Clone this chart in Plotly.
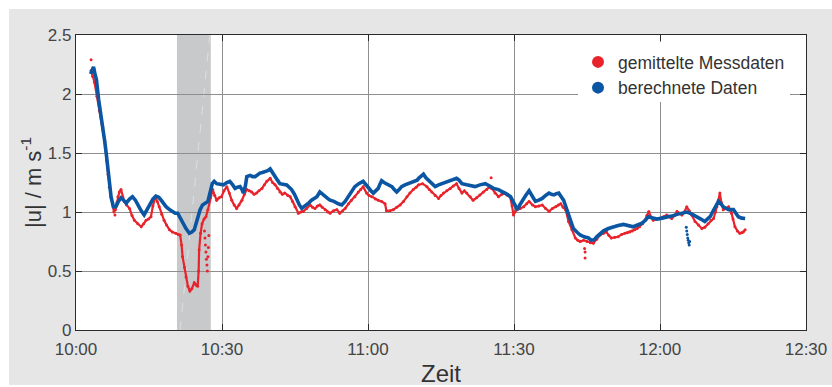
import pandas as pd
import plotly.graph_objects as go

# --- data: minutes after 10:00 and flow speed |u| in m/s ---
calc_min = [3.0, 3.3, 3.6, 3.9, 4.2, 4.66, 5.1, 5.5, 5.9, 6.2, 6.55, 6.85, 7.2, 7.67, 8.2, 8.7, 9.25, 9.8,
            10.3, 11.0, 11.6, 12.2, 12.7, 13.4, 14.0, 14.6, 15.1, 15.8, 16.4, 17.0, 17.5, 18.0, 18.5, 19.2,
            19.9, 20.4, 20.9, 21.4, 21.9, 22.6, 23.3, 23.8, 24.3, 24.6, 25.0, 25.5, 26.0, 26.6, 27.1, 27.4,
            27.7, 28.0, 28.4, 28.9, 29.6, 30.3, 31.0, 31.6, 32.2, 32.7, 33.2, 33.7, 34.1, 34.4, 34.8, 35.1,
            35.8, 36.3, 36.8, 37.3, 37.8, 38.3, 38.8, 39.4, 39.9, 40.4, 40.9, 41.4, 41.9, 42.6, 43.3, 43.8,
            44.3, 44.9, 45.4, 45.9, 46.4, 46.9, 47.4, 47.9, 48.4, 49.0, 49.5, 50.1, 50.6, 51.2, 51.7, 52.2,
            53.0, 53.9, 54.6, 55.3, 56.0, 56.6, 57.3, 58.1, 59.0, 59.5, 60.1, 60.6, 61.1, 61.6, 62.1, 62.5,
            62.8, 63.3, 63.8, 64.4, 64.9, 65.4, 65.9, 66.4, 66.9, 67.6, 68.3, 69.0, 69.7, 70.1, 70.4, 70.9,
            71.4, 71.9, 72.4, 73.1, 73.8, 74.5, 75.2, 75.8, 76.5, 77.3, 78.2, 78.7, 79.3, 80.3, 81.2, 82.0,
            83.0, 84.1, 85.0, 85.8, 86.8, 87.9, 88.6, 89.3, 90.0, 90.7, 91.2, 91.7, 92.4, 93.1, 93.6, 94.0,
            94.4, 95.1, 95.8, 96.5, 97.2, 97.7, 98.2, 98.7, 99.2, 99.7, 100.2, 100.7, 101.2, 101.7, 102.2,
            102.9, 103.6, 104.4, 105.3, 105.9, 106.5, 107.0, 107.7, 108.4, 109.4, 110.4, 111.4, 112.5, 113.5,
            114.5, 115.4, 116.3, 117.0, 117.6, 118.5, 119.4, 120.4, 121.4, 122.4, 123.5, 124.5, 125.5, 126.2,
            127.2, 127.5, 128.4, 129.2, 129.8, 130.3, 130.8, 131.3, 132.0, 132.5, 133.0, 133.6, 134.1, 134.6,
            135.1, 135.6, 136.1, 136.8, 137.5]
calc_u = [2.17, 2.20, 2.23, 2.17, 2.12, 1.95, 1.84, 1.72, 1.60, 1.50, 1.36, 1.24, 1.13, 1.045, 1.045, 1.09, 1.12, 1.10,
          1.075, 1.11, 1.13, 1.10, 1.06, 1.01, 0.975, 1.02, 1.06, 1.11, 1.135, 1.125, 1.10, 1.07, 1.045, 1.02,
          1.00, 0.99, 0.99, 0.95, 0.90, 0.86, 0.82, 0.83, 0.85, 0.90, 0.96, 1.02, 1.06, 1.08, 1.09, 1.14,
          1.19, 1.24, 1.26, 1.24, 1.235, 1.23, 1.25, 1.26, 1.23, 1.20, 1.21, 1.215, 1.19, 1.16, 1.22, 1.30,
          1.31, 1.30, 1.30, 1.32, 1.33, 1.335, 1.34, 1.35, 1.365, 1.33, 1.30, 1.27, 1.24, 1.235, 1.23, 1.21,
          1.19, 1.15, 1.10, 1.06, 1.03, 1.045, 1.06, 1.08, 1.10, 1.12, 1.13, 1.17, 1.15, 1.13, 1.115, 1.10,
          1.09, 1.07, 1.06, 1.09, 1.13, 1.17, 1.215, 1.24, 1.26, 1.235, 1.20, 1.18, 1.16, 1.18, 1.20, 1.24,
          1.265, 1.25, 1.24, 1.23, 1.215, 1.19, 1.17, 1.19, 1.215, 1.23, 1.24, 1.25, 1.26, 1.27, 1.285, 1.30,
          1.32, 1.29, 1.27, 1.24, 1.215, 1.23, 1.24, 1.25, 1.26, 1.27, 1.285, 1.27, 1.24, 1.23, 1.22, 1.215,
          1.23, 1.24, 1.22, 1.20, 1.19, 1.17, 1.15, 1.13, 1.07, 1.02, 1.06, 1.10, 1.14, 1.18, 1.15, 1.12,
          1.09, 1.10, 1.115, 1.14, 1.16, 1.15, 1.145, 1.155, 1.16, 1.13, 1.10, 1.04, 0.975, 0.91, 0.86,
          0.83, 0.805, 0.79, 0.78, 0.76, 0.765, 0.79, 0.82, 0.84, 0.86, 0.875, 0.885, 0.895, 0.885,
          0.875, 0.89, 0.905, 0.93, 0.96, 0.95, 0.94, 0.948, 0.955, 0.965, 0.98, 0.99, 1.00, 0.99,
          0.97, 0.96, 0.94, 0.92, 0.94, 0.96, 1.00, 1.045, 1.09, 1.07, 1.045, 1.03, 1.02, 1.02,
          1.02, 0.99, 0.96, 0.948, 0.945]

# short separate run of computed values around 12:05
calc_drop_min = [125.4, 125.5, 125.6, 125.7, 125.8, 125.9, 126.0, 126.1]
calc_drop_u = [0.87, 0.84, 0.81, 0.78, 0.76, 0.74, 0.72, 0.75]

meas_min = [3.1, 3.4, 3.8, 4.3, 4.8, 5.2, 5.5, 5.9, 6.3, 6.6, 6.85, 7.2, 7.5, 7.8, 8.1, 8.4, 8.6, 8.9, 9.25, 9.6,
            9.9, 10.4, 11.0, 11.5, 12.0, 12.7, 13.4, 13.9, 14.4, 14.9, 15.4, 15.8, 16.3, 16.7, 17.1, 17.6, 18.1,
            18.6, 19.2, 19.8, 20.5, 21.0, 21.4, 21.7, 21.9, 22.3, 22.6, 23.0, 23.4, 23.8, 24.3, 24.7, 25.0,
            25.2, 25.3, 25.6, 25.9, 26.3, 26.7, 27.1, 27.6, 28.1, 28.5, 28.9, 29.4, 29.9, 30.4, 31.0, 31.5,
            32.0, 32.5, 33.0, 33.5, 34.1, 34.6, 35.1, 35.6, 36.1, 36.6, 37.1, 37.6, 38.2, 38.7, 39.2, 39.9,
            40.4, 40.9, 41.4, 41.9, 42.4, 42.9, 43.5, 44.0, 44.5, 45.0, 45.7, 46.2, 46.7, 47.4, 48.1, 48.6,
            49.1, 49.6, 50.1, 50.6, 51.2, 51.7, 52.2, 52.9, 53.6, 54.2, 54.8, 55.3, 56.0, 56.6, 57.3, 58.0,
            58.5, 59.0, 59.7, 60.2, 60.8, 61.5, 62.1, 62.8, 63.5, 63.8, 64.5, 65.2, 65.9, 66.6, 67.3, 68.0,
            68.6, 69.3, 69.9, 70.4, 71.2, 72.1, 72.6, 73.1, 73.8, 74.5, 75.0, 75.5, 76.2, 76.9, 77.5, 78.2,
            78.7, 79.3, 79.8, 80.3, 81.0, 81.6, 82.3, 83.0, 83.7, 84.4, 84.9, 85.4, 86.1, 86.8, 87.5, 88.2,
            88.7, 89.2, 89.6, 89.9, 90.2, 90.6, 91.3, 92.0, 92.6, 93.1, 93.8, 94.4, 95.1, 95.8, 96.5, 97.2,
            97.9, 98.6, 99.1, 99.6, 100.1, 100.6, 101.2, 101.9, 102.6, 103.1, 103.6, 104.3, 105.0, 105.7,
            106.3, 107.0, 107.7, 108.4, 109.0, 109.5, 110.0, 110.7, 111.4, 112.1, 112.8, 113.3, 113.8, 114.3,
            114.8, 115.3, 115.8, 116.4, 116.9, 117.3, 117.7, 118.1, 118.6, 119.3, 120.0, 120.7, 121.4, 121.9,
            122.4, 123.0, 123.5, 124.0, 124.5, 125.0, 125.5, 126.0, 126.5, 127.2, 127.9, 128.6, 129.2, 129.9,
            130.5, 131.0, 131.4, 131.7, 132.0, 132.3, 132.6, 133.0, 133.5, 134.1, 134.4, 134.7, 135.0, 135.4,
            135.9, 136.4, 136.8, 137.1, 137.5]
meas_u = [2.20, 2.15, 2.10, 1.98, 1.86, 1.80, 1.72, 1.60, 1.44, 1.32, 1.21, 1.12, 1.07, 1.00, 1.02, 1.08, 1.13, 1.17, 1.19, 1.13,
          1.09, 1.06, 1.03, 0.97, 0.93, 0.90, 0.875, 0.90, 0.93, 0.94, 0.96, 1.05, 1.13, 1.09, 1.045, 0.98, 0.93,
          0.89, 0.85, 0.83, 0.82, 0.81, 0.805, 0.72, 0.62, 0.53, 0.45, 0.37, 0.33, 0.35, 0.40, 0.38, 0.37,
          0.50, 0.68, 0.82, 0.90, 0.94, 0.96, 1.02, 1.12, 1.19, 1.14, 1.10, 1.12, 1.13, 1.18, 1.215, 1.16,
          1.10, 1.06, 1.03, 1.06, 1.10, 1.15, 1.19, 1.18, 1.17, 1.15, 1.16, 1.18, 1.20, 1.23, 1.26, 1.285,
          1.25, 1.23, 1.20, 1.17, 1.15, 1.16, 1.14, 1.13, 1.09, 1.045, 0.99, 1.00, 1.005, 1.03, 1.06, 1.04,
          1.03, 1.05, 1.06, 1.04, 1.02, 1.00, 0.99, 1.01, 1.02, 0.99, 1.01, 1.03, 1.07, 1.10, 1.13, 1.17,
          1.19, 1.215, 1.16, 1.14, 1.13, 1.11, 1.10, 1.09, 1.07, 1.01, 1.01, 1.02, 1.04, 1.06, 1.09, 1.13,
          1.16, 1.19, 1.21, 1.23, 1.24, 1.215, 1.19, 1.17, 1.14, 1.115, 1.14, 1.16, 1.18, 1.20, 1.22, 1.24,
          1.20, 1.16, 1.18, 1.16, 1.13, 1.10, 1.12, 1.145, 1.17, 1.19, 1.21, 1.20, 1.16, 1.13, 1.15, 1.16,
          1.14, 1.13, 1.05, 0.975, 1.00, 1.02, 1.03, 1.045, 1.07, 1.09, 1.06, 1.045, 1.05, 1.06, 1.03, 1.005,
          1.03, 1.045, 1.06, 1.07, 1.04, 1.02, 0.92, 0.85, 0.78, 0.76, 0.75, 0.76, 0.75, 0.74,
          0.735, 0.77, 0.805, 0.82, 0.83, 0.80, 0.78, 0.785, 0.79, 0.81, 0.82, 0.825, 0.83, 0.84,
          0.85, 0.86, 0.875, 0.90, 0.93, 0.97, 1.005, 0.96, 0.93, 0.94, 0.945, 0.96, 0.975, 0.96,
          0.945, 0.97, 1.005, 0.99, 0.975, 1.00, 1.045, 1.01, 0.975, 0.92, 0.89, 0.86, 0.87, 0.90,
          0.93, 0.945, 1.00, 1.045, 1.10, 1.16, 1.08, 1.02, 1.03, 1.045, 1.02, 0.99, 0.94, 0.875,
          0.84, 0.82, 0.825, 0.83, 0.85]

# scattered single measurements off the main trace
meas_dot_min = [3.1, 8.0, 26.4, 26.5, 26.6, 26.7, 26.8, 26.9, 27.0, 27.1, 27.2, 27.3, 85.3, 104.5, 104.6, 104.6]
meas_dot_u = [2.29, 0.975, 0.84, 0.78, 0.72, 0.66, 0.60, 0.55, 0.50, 0.62, 0.70, 0.80, 1.29, 0.69, 0.66, 0.61]

# highlighted interval (minutes after 10:00)
band_min = [20.75, 27.7]
band_line_min = [21.4, 27.5]

x_tick_min = [0, 30, 60, 90, 120, 150]
x_tick_text = ["10:00", "10:30", "11:00", "11:30", "12:00", "12:30"]
y_ticks = [0, 0.5, 1, 1.5, 2, 2.5]
y_tick_text = ["0", "0.5", "1", "1.5", "2", "2.5"]

series_names = ["gemittelte Messdaten", "berechnete Daten"]

BASE = pd.Timestamp("2020-01-01 10:00:00")

# plot-area geometry in pixels, used to place paper-referenced items
PL, PR, PT, PB = 76, 806, 35, 330
PW, PH = PR - PL, PB - PT


def to_time(minutes):
    return [BASE + pd.Timedelta(minutes=m) for m in minutes]


def px_x(px):
    return (px - PL) / PW


def px_y(py):
    return (PB - py) / PH


RED = "#e8232b"
BLUE = "#0b56a3"
FONT = "Liberation Sans, Arial, sans-serif"

fig = go.Figure()

fig.add_trace(go.Scatter(x=to_time(meas_min), y=meas_u, mode="lines+markers",
                         line=dict(color=RED, width=2.2), marker=dict(color=RED, size=3),
                         showlegend=False, hoverinfo="skip"))
fig.add_trace(go.Scatter(x=to_time(meas_dot_min), y=meas_dot_u, mode="markers",
                         marker=dict(color=RED, size=3), showlegend=False, hoverinfo="skip"))
fig.add_trace(go.Scatter(x=to_time(calc_min), y=calc_u, mode="lines",
                         line=dict(color=BLUE, width=3.6), showlegend=False, hoverinfo="skip"))
fig.add_trace(go.Scatter(x=to_time(calc_drop_min), y=calc_drop_u, mode="markers",
                         marker=dict(color=BLUE, size=3), showlegend=False, hoverinfo="skip"))

# legend entries
for name, col in zip(series_names, [RED, BLUE]):
    fig.add_trace(go.Scatter(x=[None], y=[None], mode="markers", name=name,
                             marker=dict(color=col, size=9)))

# grey highlighted interval
fig.add_shape(type="rect", xref="x", yref="y",
              x0=to_time([band_min[0]])[0], x1=to_time([band_min[1]])[0], y0=0, y1=2.5,
              fillcolor="#c8c9cb", line=dict(width=0), layer="below")
fig.add_shape(type="line", xref="x", yref="y",
              x0=to_time([band_line_min[0]])[0], x1=to_time([band_line_min[1]])[0], y0=0, y1=2.5,
              line=dict(color="#dedfe0", width=1, dash="dash"), layer="below")

# white legend box hiding the grid behind it (keeps the top tick visible)
fig.add_shape(type="rect", xref="paper", yref="paper",
              x0=px_x(578), x1=px_x(790), y0=px_y(102), y1=px_y(42),
              fillcolor="white", line=dict(width=0), layer="above")

# white page border strips around the grey panel
fig.add_shape(type="rect", xref="paper", yref="paper", x0=px_x(0), x1=px_x(9), y0=px_y(387), y1=px_y(0),
              fillcolor="white", line=dict(width=0), layer="above")
fig.add_shape(type="rect", xref="paper", yref="paper", x0=px_x(0), x1=px_x(832), y0=px_y(9), y1=px_y(0),
              fillcolor="white", line=dict(width=0), layer="above")
fig.add_shape(type="rect", xref="paper", yref="paper", x0=px_x(0), x1=px_x(832), y0=px_y(387), y1=px_y(385),
              fillcolor="white", line=dict(width=0), layer="above")

axis_common = dict(showline=True, linecolor="#2b2b2b", linewidth=1.2, mirror="ticks",
                   ticks="inside", ticklen=6, tickcolor="#2b2b2b", tickwidth=1.2,
                   showgrid=True, gridcolor="#8e8e8e", gridwidth=1, zeroline=False,
                   automargin=False,
                   tickfont=dict(family=FONT, size=17, color="#444444"))

fig.update_xaxes(range=[BASE, BASE + pd.Timedelta(minutes=150)],
                 tickvals=to_time(x_tick_min), ticktext=x_tick_text, ticklabelstandoff=3,
                 title=dict(text="Zeit", font=dict(family=FONT, size=24, color="#333333"), standoff=9),
                 **axis_common)
fig.update_yaxes(range=[0, 2.5], tickvals=y_ticks, ticktext=y_tick_text,
                 title=dict(text="|u| / m s<sup>-1</sup>", font=dict(family=FONT, size=22, color="#333333"),
                            standoff=0),
                 **axis_common)

fig.update_layout(
    width=832, height=387,
    margin=dict(l=PL, r=832 - PR, t=PT, b=387 - PB),
    paper_bgcolor="#e6e6e6", plot_bgcolor="white",
    font=dict(family=FONT, color="#333333"),
    legend=dict(x=px_x(578), y=px_y(44), xanchor="left", yanchor="top",
                bgcolor="rgba(0,0,0,0)", borderwidth=0,
                font=dict(family=FONT, size=17.5, color="#333333"),
                itemwidth=30, itemsizing="constant", tracegroupgap=0),
)

fig.write_html("out.html")
